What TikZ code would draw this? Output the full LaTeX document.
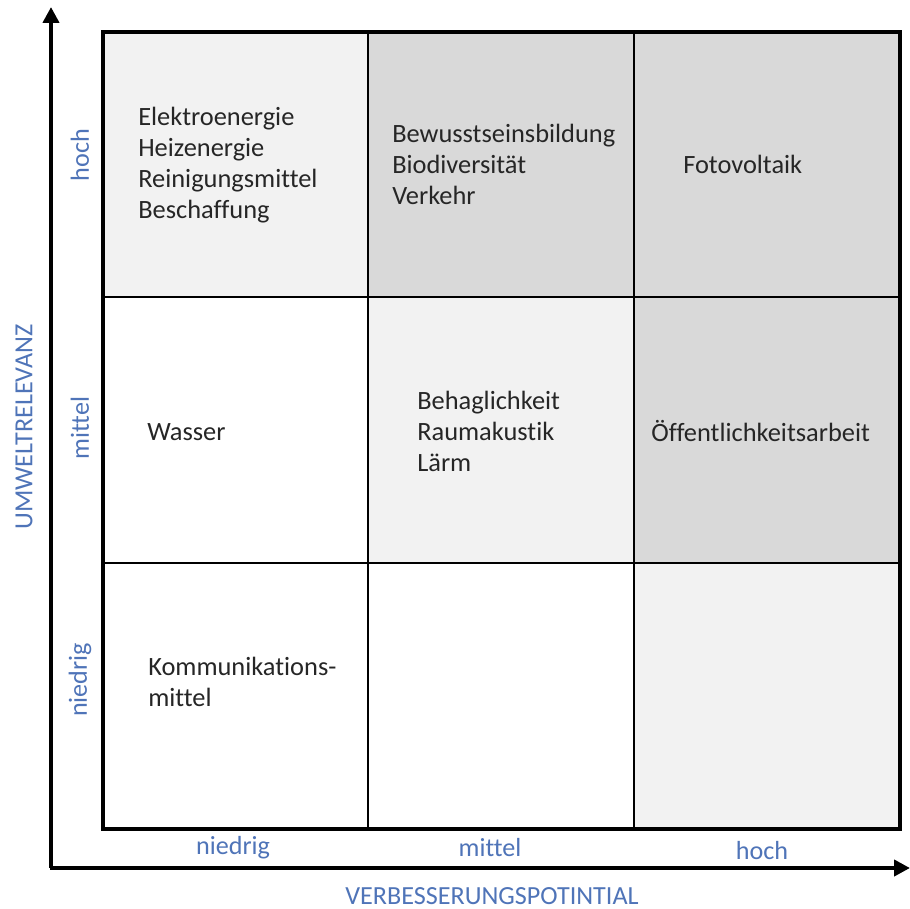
\documentclass[tikz,border=0pt]{standalone}
\usepackage{fontspec}
\setmainfont{Carlito}[Ligatures={NoCommon}]
\usetikzlibrary{arrows.meta}
\definecolor{axblue}{HTML}{4F74B8}
\definecolor{darkcell}{HTML}{D9D9D9}
\definecolor{lightcell}{HTML}{F2F2F2}
\definecolor{txt}{HTML}{262626}
\begin{document}
\begin{tikzpicture}[x=0.75pt,y=-0.75pt,
  celltext/.style={anchor=west,align=left,text=txt,inner sep=0pt,
    font=\fontsize{19.8}{23.25}\selectfont},
  axlabel/.style={text=axblue,inner sep=0pt,font=\fontsize{19.6}{23.25}\selectfont},
  axisline/.style={line width=3pt,-{Triangle[length=12pt,width=12pt]}},
  gridline/.style={line width=1.1pt},
  frame/.style={line width=3.4pt}]
\useasboundingbox (0,0) rectangle (910,909);
\fill[white] (0,0) rectangle (910,909);
% cell fills
\fill[lightcell] (103,32) rectangle (368,297);
\fill[darkcell] (368,32) rectangle (634,297);
\fill[darkcell] (634,32) rectangle (900,297);
\fill[lightcell] (368,297) rectangle (634,563);
\fill[darkcell] (634,297) rectangle (900,563);
\fill[lightcell] (634,563) rectangle (900,829);
% grid lines
\draw[gridline] (368,32) -- (368,829);
\draw[gridline] (634,32) -- (634,829);
\draw[gridline] (103,297) -- (900,297);
\draw[gridline] (103,563) -- (900,563);
\draw[frame] (103,32) rectangle (900,829);
% axes
\coordinate (origin) at (51,868);
\coordinate (ytip) at (51,7);
\coordinate (xtip) at (910,868);
\draw[axisline] (origin) -- (ytip);
\draw[axisline] ([xshift=-1.1pt]origin) -- (xtip);
% cell texts
\node[celltext] (c11) at (138,165) {Elektroenergie\\Heizenergie\\Reinigungsmittel\\Beschaffung};
\node[celltext] (c12) at (392,164) {Bewusstseinsbildung\\Biodiversität\\Verkehr};
\node[celltext] (c13) at (683,164) {Fotovoltaik};
\node[celltext] (c21) at (147,432) {Wasser};
\node[celltext] (c22) at (417,431) {Behaglichkeit\\Raumakustik\\Lärm};
\node[celltext] (c23) at (651,431) {Öffentlichkeitsarbeit};
\node[celltext] (c31) at (148,682) {Kommunikations-\\mittel};
% axis labels
\node[axlabel,rotate=90] (yh) at (80,155) {hoch};
\node[axlabel,rotate=90] (ym) at (80,428) {mittel};
\node[axlabel,rotate=90] (yn) at (80,680) {niedrig};
\node[axlabel,rotate=90] (ytitle) at (24,427) {UMWELTRELEVANZ};
\node[axlabel] (xn) at (233,848) {niedrig};
\node[axlabel] (xm) at (490,848) {mittel};
\node[axlabel] (xh) at (762,851) {hoch};
\node[axlabel] (xtitle) at (492,896) {VERBESSERUNGSPOTINTIAL};
\end{tikzpicture}
\end{document}
